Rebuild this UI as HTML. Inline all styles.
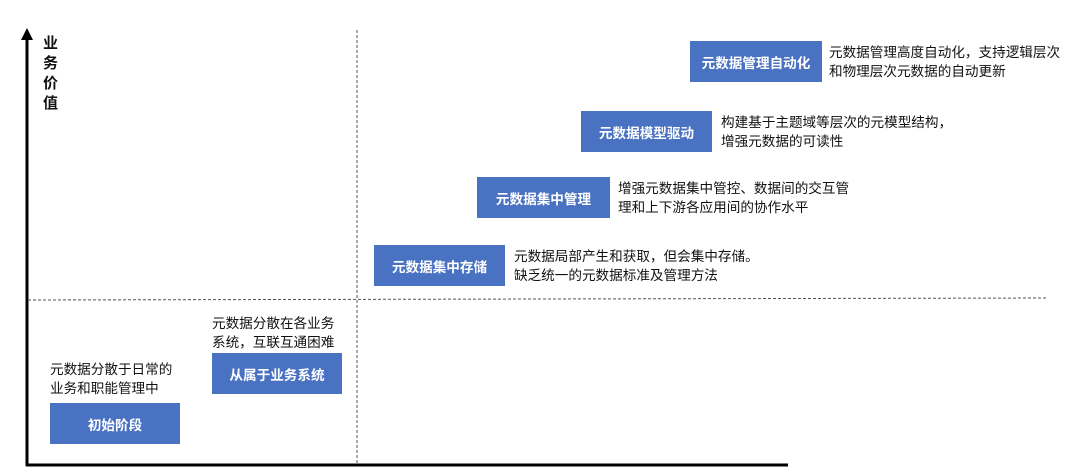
<!DOCTYPE html>
<html><head><meta charset="utf-8"><style>
body{margin:0;width:1080px;height:475px;background:#fff;position:relative;overflow:hidden;font-family:"Liberation Sans","Noto Sans CJK SC",sans-serif;}
.b{position:absolute;background:#4a72c2;color:#fff;font-weight:bold;font-size:13.6px;display:flex;align-items:center;justify-content:center;height:41px;width:131px;}
.t{position:absolute;font-size:13.6px;line-height:19px;color:#111;white-space:nowrap;}
</style></head><body>
<svg width="1080" height="475" style="position:absolute;left:0;top:0">
<line x1="27" y1="36" x2="27" y2="466" stroke="#000" stroke-width="3"/>
<polygon points="27,28 21,40 33,40" fill="#000"/>
<line x1="26" y1="465" x2="788" y2="465" stroke="#000" stroke-width="3"/>
<line x1="357" y1="30" x2="357" y2="465" stroke="#555" stroke-width="1" stroke-dasharray="3,2"/>
<line x1="28" y1="300" x2="1048" y2="298" stroke="#555" stroke-width="1" stroke-dasharray="3,2"/>
</svg>
<div class="t" style="left:43px;top:34px;font-weight:bold;font-size:15px;line-height:20px;width:18px;white-space:normal">业务价值</div>
<div class="b" style="left:50px;top:403px;width:130px;">初始阶段</div>
<div class="t" style="left:50px;top:360px;">元数据分散于日常的<br>业务和职能管理中</div>
<div class="b" style="left:212px;top:353px;width:130px;">从属于业务系统</div>
<div class="t" style="left:212px;top:314px;">元数据分散在各业务<br>系统，互联互通困难</div>
<div class="b" style="left:374px;top:245px;">元数据集中存储</div>
<div class="t" style="left:514px;top:247px;">元数据局部产生和获取，但会集中存储。<br>缺乏统一的元数据标准及管理方法</div>
<div class="b" style="left:477px;top:177px;width:133px;">元数据集中管理</div>
<div class="t" style="left:618px;top:179px;">增强元数据集中管控、数据间的交互管<br>理和上下游各应用间的协作水平</div>
<div class="b" style="left:581px;top:111px;">元数据模型驱动</div>
<div class="t" style="left:721px;top:113px;">构建基于主题域等层次的元模型结构，<br>增强元数据的可读性</div>
<div class="b" style="left:690px;top:41px;width:132px;">元数据管理自动化</div>
<div class="t" style="left:829px;top:43px;">元数据管理高度自动化，支持逻辑层次<br>和物理层次元数据的自动更新</div>
</body></html>
